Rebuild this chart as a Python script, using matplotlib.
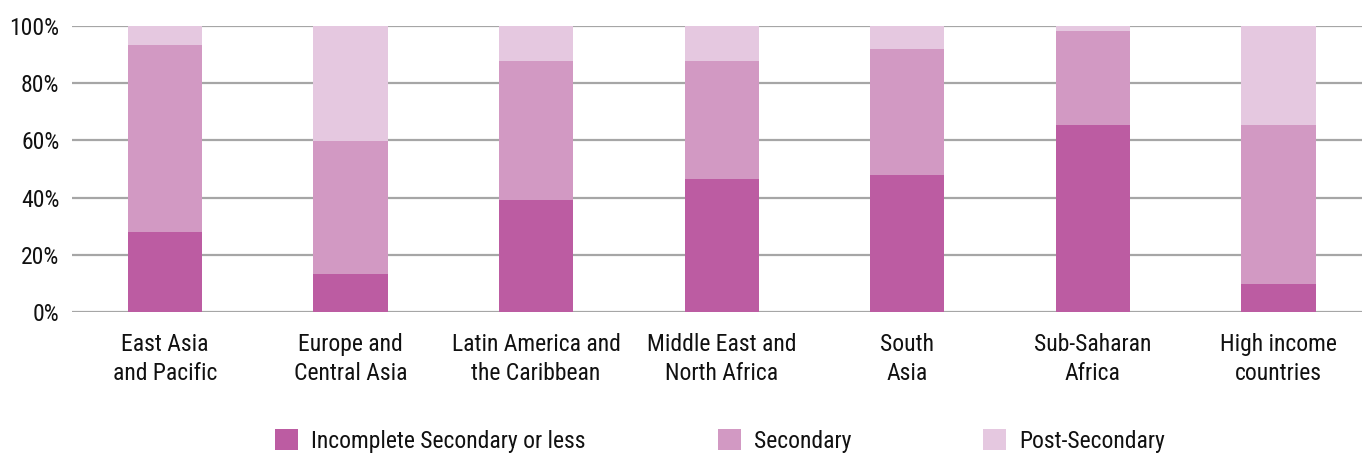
import matplotlib
matplotlib.use("Agg")
import matplotlib.pyplot as plt
from matplotlib.font_manager import fontManager
from matplotlib.patches import Patch
import numpy as np

regions = ["East Asia\nand Pacific", "Europe and\nCentral Asia", "Latin America and\nthe Caribbean",
           "Middle East and\nNorth Africa", "South\nAsia", "Sub-Saharan\nAfrica", "High income\ncountries"]
incomplete_secondary = [28.0, 13.2, 39.0, 46.4, 47.8, 65.3, 9.7]
secondary = [65.3, 46.5, 48.7, 41.3, 44.1, 32.8, 55.6]
post_secondary = [6.7, 40.3, 12.3, 12.3, 8.1, 1.9, 34.7]
series_names = ["Incomplete Secondary or less", "Secondary", "Post-Secondary"]
colors = ["#bc5ca2", "#d299c3", "#e5c8e0"]
y_ticks = [0, 20, 40, 60, 80, 100]

# prefer a condensed face; otherwise a narrow regular sans
names = {f.name for f in fontManager.ttflist}
size = 15
family = "DejaVu Sans"
for cand, sz in [("Roboto Condensed", 17), ("Open Sans Condensed", 17), ("Liberation Sans Narrow", 17),
                 ("Roboto", 15), ("Lato", 16)]:
    if cand in names:
        family, size = cand, sz
        break
plt.rcParams["font.family"] = [family, "DejaVu Sans"]

fig = plt.figure(figsize=(13.62, 4.55), dpi=100)
ax = fig.add_axes([72 / 1362, 1 - 312 / 455, 1 - 72 / 1362, 286 / 455])

x = np.arange(len(regions))
width = 0.4
bottom = np.zeros(len(regions))
for vals, color, name in zip([incomplete_secondary, secondary, post_secondary], colors, series_names):
    ax.bar(x, vals, width, bottom=bottom, color=color, label=name, zorder=3)
    bottom += np.array(vals)

ax.set_ylim(0, 100)
ax.set_xlim(-0.5, 6.45)
ax.set_yticks(y_ticks)
ax.set_yticklabels([f"{v}%" for v in y_ticks], fontsize=size, color="#111111")
ax.set_xticks(x)
ax.set_xticklabels(regions, fontsize=size, color="#111111", linespacing=1.35)
ax.tick_params(axis="both", length=0)
ax.tick_params(axis="x", pad=15)
ax.tick_params(axis="y", pad=9)
for spine in ax.spines.values():
    spine.set_visible(False)
ax.yaxis.grid(True, color="#a6a6a6", linewidth=1.6, zorder=0)
ax.set_axisbelow(True)

handles = [Patch(facecolor=c, edgecolor="none") for c in colors]
fs_px = size * 100 / 72
fig.legend(handles, series_names, loc="center", bbox_to_anchor=(720 / 1362, 1 - 441 / 455),
           ncol=3, frameon=False, fontsize=size, handlelength=23 / fs_px, handleheight=23 / fs_px,
           handletextpad=13 / fs_px, columnspacing=132 / fs_px, labelcolor="#111111")

fig.savefig("out.png", dpi=100)
